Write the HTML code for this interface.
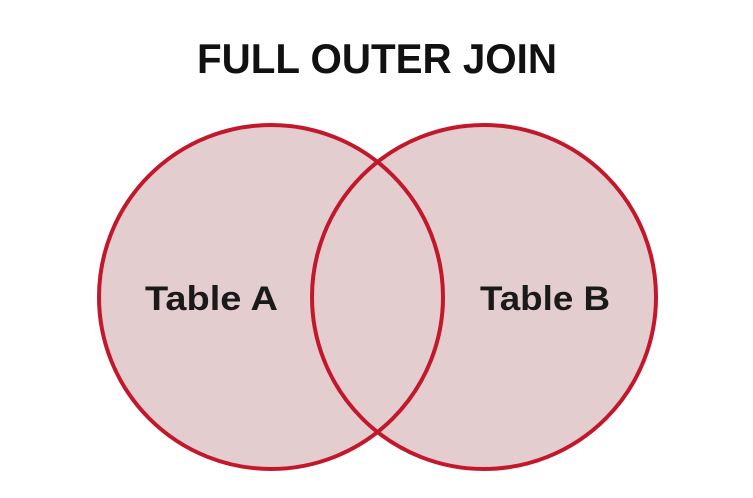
<!DOCTYPE html>
<html><head><style>html,body{margin:0;padding:0;background:#fff;width:753px;height:498px;overflow:hidden}</style></head>
<body>
<svg width="753" height="498" viewBox="0 0 753 498" xmlns="http://www.w3.org/2000/svg">
<circle cx="271" cy="297" r="172" fill="#e3cdcf"/>
<circle cx="484" cy="297" r="172" fill="#e3cdcf"/>
<circle cx="271" cy="297" r="172" fill="none" stroke="#c3172b" stroke-width="4"/>
<circle cx="484" cy="297" r="172" fill="none" stroke="#c3172b" stroke-width="4"/>
<text x="197" y="73" font-family="Liberation Sans, sans-serif" font-weight="bold" font-size="42" fill="#111" textLength="360" lengthAdjust="spacingAndGlyphs">FULL OUTER JOIN</text>
<text x="145" y="310" font-family="Liberation Sans, sans-serif" font-weight="bold" font-size="34" fill="#1a1a1a" textLength="133" lengthAdjust="spacingAndGlyphs">Table A</text>
<text x="480" y="310" font-family="Liberation Sans, sans-serif" font-weight="bold" font-size="34" fill="#1a1a1a" textLength="130" lengthAdjust="spacingAndGlyphs">Table B</text>
</svg>
</body></html>
